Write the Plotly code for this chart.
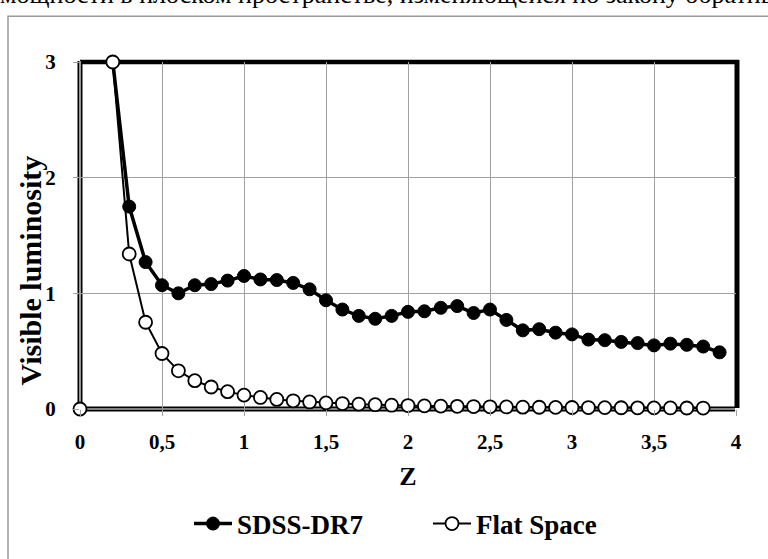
import plotly.graph_objects as go

# ---- data ----
z_sdss = [0.2, 0.3, 0.4, 0.5, 0.6, 0.7, 0.8, 0.9, 1.0, 1.1, 1.2, 1.3, 1.4, 1.5, 1.6, 1.7, 1.8, 1.9,
          2.0, 2.1, 2.2, 2.3, 2.4, 2.5, 2.6, 2.7, 2.8, 2.9, 3.0, 3.1, 3.2, 3.3, 3.4, 3.5, 3.6, 3.7, 3.8, 3.9]
lum_sdss = [3.0, 1.75, 1.27, 1.07, 1.0, 1.07, 1.08, 1.11, 1.15, 1.12, 1.115, 1.09, 1.035, 0.94, 0.86, 0.805,
            0.78, 0.805, 0.84, 0.845, 0.875, 0.89, 0.83, 0.86, 0.77, 0.68, 0.69, 0.66, 0.645, 0.60, 0.595,
            0.58, 0.57, 0.55, 0.565, 0.555, 0.54, 0.49]

z_flat = [0.0, 0.1, 0.2, 0.3, 0.4, 0.5, 0.6, 0.7, 0.8, 0.9, 1.0, 1.1, 1.2, 1.3, 1.4, 1.5, 1.6, 1.7, 1.8, 1.9,
          2.0, 2.1, 2.2, 2.3, 2.4, 2.5, 2.6, 2.7, 2.8, 2.9, 3.0, 3.1, 3.2, 3.3, 3.4, 3.5, 3.6, 3.7, 3.8]
lum_flat = [0.0, None, 3.0, 1.34, 0.75, 0.48, 0.33, 0.245, 0.19, 0.15, 0.12, 0.10, 0.083, 0.071, 0.061, 0.053,
            0.047, 0.042, 0.037, 0.033, 0.030, 0.027, 0.025, 0.023, 0.021, 0.019, 0.018, 0.016, 0.015,
            0.014, 0.013, 0.0125, 0.012, 0.011, 0.010, 0.0098, 0.0093, 0.0088, 0.0083]

x_ticks = [0, 0.5, 1, 1.5, 2, 2.5, 3, 3.5, 4]
x_ticklabels = ["0", "0,5", "1", "1,5", "2", "2,5", "3", "3,5", "4"]
y_ticks = [0, 1, 2, 3]
y_ticklabels = ["0", "1", "2", "3"]

series_names = ["SDSS-DR7", "Flat Space"]
x_title = "Z"
y_title = "Visible luminosity"
page_text = "мощности в плоском пространстве, изменяющейся по закону обратных"

FONT = "Liberation Serif, Times New Roman, serif"

fig = go.Figure()
fig.add_trace(go.Scatter(
    x=z_sdss, y=lum_sdss, name="<b>" + series_names[0] + "</b>", mode="lines+markers",
    line=dict(color="black", width=3.5),
    marker=dict(symbol="circle", size=13, color="black", line=dict(color="black", width=1)),
    cliponaxis=False,
))
fig.add_trace(go.Scatter(
    x=z_flat, y=lum_flat, name="<b>" + series_names[1] + "</b>", mode="lines+markers",
    connectgaps=False,
    line=dict(color="black", width=2),
    marker=dict(symbol="circle", size=13, color="white", line=dict(color="black", width=1.8)),
    cliponaxis=False,
))

L, R, T, B = 80, 32, 62, 149
W, H = 768, 559
pw, ph = W - L - R, H - T - B

def px_x(p):
    return (p - L) / pw

def px_y(p):
    return (H - B - p) / ph

shapes = []
# outer chart frame (gray)
shapes.append(dict(type="rect", xref="paper", yref="paper",
                   x0=px_x(8), x1=px_x(790), y0=px_y(16), y1=px_y(600),
                   line=dict(color="#9a9a9a", width=1.5), fillcolor="rgba(0,0,0,0)", layer="below"))
# top & right thick borders
shapes.append(dict(type="line", xref="paper", yref="paper", x0=0, x1=px_x(739), y0=1, y1=1,
                   line=dict(color="black", width=4.5), layer="between"))
shapes.append(dict(type="line", xref="paper", yref="paper", x0=px_x(737), x1=px_x(737), y0=1.006, y1=px_y(409),
                   line=dict(color="black", width=5), layer="between"))
# left & bottom double lines
for (x0, x1, y0, y1) in [(0, 0, 0, 1.003), (0, px_x(735), 0, 0)]:
    shapes.append(dict(type="line", xref="paper", yref="paper", x0=x0, x1=x1, y0=y0, y1=y1,
                       line=dict(color="black", width=5), layer="between"))
    shapes.append(dict(type="line", xref="paper", yref="paper", x0=x0, x1=x1, y0=y0, y1=y1,
                       line=dict(color="white", width=1.2), layer="between"))

fig.update_layout(
    width=W, height=H,
    margin=dict(l=L, r=R, t=T, b=B),
    paper_bgcolor="white", plot_bgcolor="white",
    font=dict(family=FONT, color="black"),
    shapes=shapes,
    showlegend=True,
    legend=dict(orientation="h", x=px_x(189), y=px_y(524), xanchor="left", yanchor="middle",
                font=dict(family=FONT, size=27, color="black"),
                itemwidth=38, entrywidth=186, entrywidthmode="pixels",
                bgcolor="rgba(0,0,0,0)", traceorder="normal"),
    xaxis=dict(range=[0, 4], tickmode="array", tickvals=x_ticks, ticktext=x_ticklabels,
               showgrid=True, gridcolor="#a0a0a0", gridwidth=1, zeroline=False, showline=False,
               ticks="outside", ticklen=6, tickcolor="#a0a0a0", tickwidth=1,
               ticklabelstandoff=8,
               tickfont=dict(family=FONT, size=21, color="black", weight="bold"),
               title=dict(text="<b>" + x_title + "</b>", font=dict(family=FONT, size=26, color="black"),
                          standoff=13)),
    yaxis=dict(range=[0, 3], tickmode="array", tickvals=y_ticks, ticktext=y_ticklabels,
               showgrid=True, gridcolor="#a0a0a0", gridwidth=1, zeroline=False, showline=False,
               ticks="outside", ticklen=6, tickcolor="#a0a0a0", tickwidth=1,
               ticklabelstandoff=13,
               tickfont=dict(family=FONT, size=21, color="black", weight="bold")),
    annotations=[
        dict(text=page_text, xref="paper", yref="paper", x=px_x(-2), y=px_y(11),
             xanchor="left", yanchor="bottom", showarrow=False,
             font=dict(family=FONT, size=26, color="black")),
        dict(text="<b>" + y_title + "</b>", xref="paper", yref="paper", x=px_x(30), y=px_y(271),
             xanchor="center", yanchor="middle", showarrow=False, textangle=-90,
             font=dict(family=FONT, size=30, color="black")),
    ],
)

fig.write_html("out.html")
